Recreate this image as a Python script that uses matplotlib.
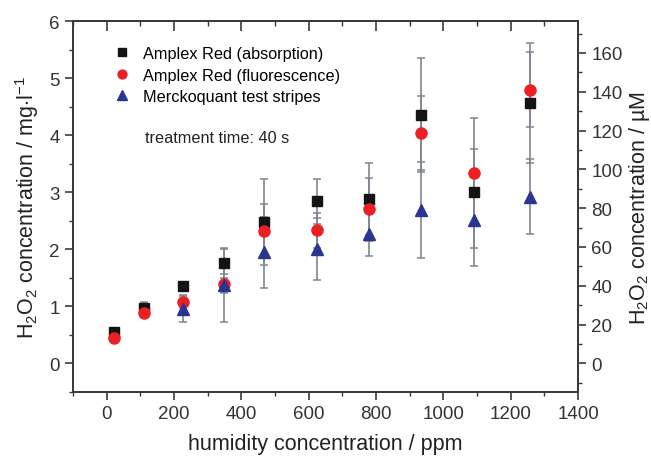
import numpy as np
import matplotlib
matplotlib.use("Agg")
import matplotlib.pyplot as plt

plt.rcParams["font.family"] = ["Liberation Sans", "DejaVu Sans"]
plt.rcParams["mathtext.fontset"] = "custom"
plt.rcParams["mathtext.rm"] = "Liberation Sans"
plt.rcParams["mathtext.it"] = "Liberation Sans"

# humidity concentration (ppm)
humidity = [22, 112, 228, 350, 468, 624, 778, 935, 1092, 1256]

# Amplex Red (absorption), mg/l
absorption = [0.55, 0.98, 1.36, 1.76, 2.48, 2.84, 2.88, 4.35, 3.00, 4.57]
absorption_err = [0.05, 0.10, 0.06, 0.27, 0.75, 0.40, 0.63, 1.00, 1.30, 1.05]

# Amplex Red (fluorescence), mg/l
fluorescence = [0.45, 0.89, 1.08, 1.40, 2.32, 2.33, 2.70, 4.04, 3.34, 4.80]
fluorescence_err = [0.04, 0.07, 0.10, 0.17, 0.47, 0.30, 0.55, 0.65, 0.41, 0.65]

# Merckoquant test stripes (no value for the first two humidities)
merck_x = [228, 350, 468, 624, 778, 935, 1092, 1256]
merck = [0.96, 1.37, 1.95, 2.01, 2.26, 2.69, 2.52, 2.92]
merck_err = [0.24, 0.64, 0.62, 0.54, 0.38, 0.84, 0.50, 0.66]

MG_TO_UM = 29.4  # 1 mg/l H2O2 = 29.4 uM

fig = plt.figure(figsize=(6.51, 4.60), dpi=100)
ax = fig.add_axes([0.112, 0.1457, 0.776, 0.8063])

err_color = "#80868e"
err_kw = dict(fmt="none", ecolor=err_color, elinewidth=1.2, capsize=3.2, capthick=1.1, zorder=2)
ax.errorbar(humidity, absorption, yerr=absorption_err, **err_kw)
ax.errorbar(humidity, fluorescence, yerr=fluorescence_err, **err_kw)
ax.errorbar(merck_x, merck, yerr=merck_err, **err_kw)

ax.plot(humidity, absorption, "s", color="#141414", ms=7.5, zorder=3,
        label="Amplex Red (absorption)")
ax.plot(humidity, fluorescence, "o", color="#ec2024", ms=8, zorder=3,
        label="Amplex Red (fluorescence)")
ax.plot(merck_x, merck, "^", color="#2a3592", ms=8.5, zorder=3,
        label="Merckoquant test stripes")

ax.set_xlim(-100, 1400)
ax.set_ylim(-0.5, 6)
ax.set_xticks(np.arange(0, 1401, 200))
ax.set_xticks(np.arange(-100, 1401, 100), minor=True)
ax.set_yticks(np.arange(0, 7, 1))
ax.set_yticks(np.arange(-0.5, 6.01, 0.5), minor=True)

spine_c = "#3a3a3a"
for s in ax.spines.values():
    s.set_color(spine_c)
    s.set_linewidth(1.3)

ax.tick_params(which="both", direction="out", colors=spine_c, labelcolor="#333333",
               labelsize=13.5, right=False, top=False)
ax.tick_params(which="major", length=6, width=1.2)
ax.tick_params(which="minor", length=3, width=1.0)

# top axis: ticks pointing inward, no labels
top = ax.secondary_xaxis("top")
top.set_xticks(np.arange(0, 1401, 200))
top.set_xticks(np.arange(-100, 1401, 100), minor=True)
top.tick_params(which="both", direction="in", colors=spine_c, labeltop=False)
top.tick_params(which="major", length=7, width=1.2)
top.tick_params(which="minor", length=3.5, width=1.0)
top.spines["top"].set_color(spine_c)
top.spines["top"].set_linewidth(1.3)

# right axis in uM
ax2 = ax.twinx()
ax2.set_ylim(-0.5 * MG_TO_UM, 6 * MG_TO_UM)
ax2.set_yticks(np.arange(0, 161, 20))
ax2.set_yticks(np.arange(-10, 171, 10), minor=True)
for s in ax2.spines.values():
    s.set_color(spine_c)
    s.set_linewidth(1.3)
ax2.tick_params(which="both", direction="out", colors=spine_c, labelcolor="#333333",
                labelsize=13.5)
ax2.tick_params(which="major", length=6, width=1.2)
ax2.tick_params(which="minor", length=3, width=1.0)

ax.set_xlabel("humidity concentration / ppm", fontsize=15.5, color="#222222", labelpad=8)
ax.set_ylabel(r"H$_2$O$_2$ concentration / mg$\cdot$l$^{-1}$", fontsize=15.5,
              color="#222222", labelpad=6)
ax2.set_ylabel("H$_2$O$_2$ concentration / \u00b5M", fontsize=15.5, color="#222222",
               labelpad=3)

ax.legend(loc="upper left", bbox_to_anchor=(0.068, 0.95), frameon=False,
          fontsize=11.7, handlelength=1.0, handletextpad=0.8, labelspacing=0.4,
          borderaxespad=0, markerscale=0.8)

ax.text(0.1426, 0.685, "treatment time: 40 s", transform=ax.transAxes,
        fontsize=11.7, ha="left", va="center", color="#222222")

fig.savefig("out.png", dpi=100)
